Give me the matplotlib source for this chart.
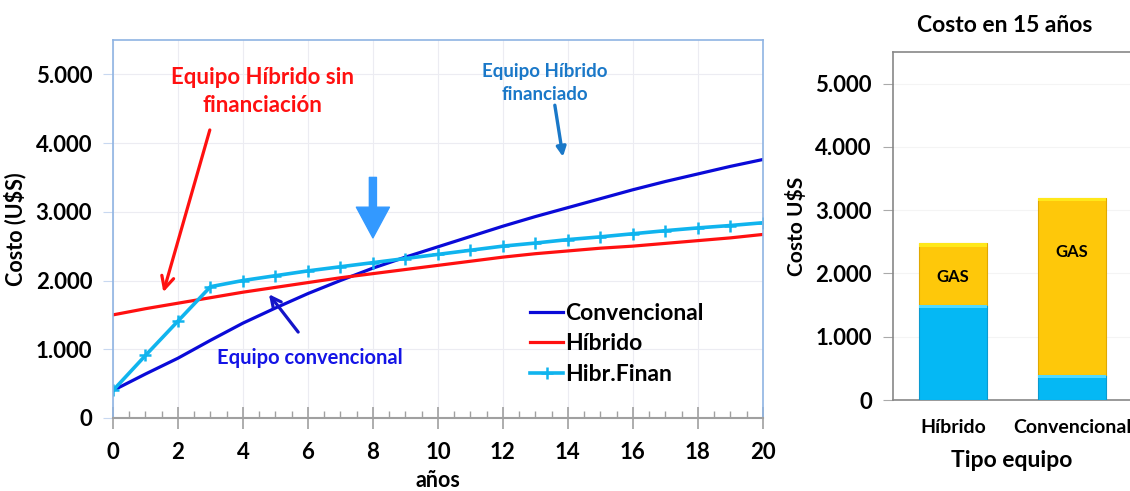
import numpy as np
import matplotlib.pyplot as plt
from matplotlib.ticker import FuncFormatter, MultipleLocator

plt.rcParams['font.family'] = ['Lato', 'DejaVu Sans']
plt.rcParams['font.weight'] = 'bold'

# Costo acumulado por año (U$S)
anos = list(range(0, 21))
convencional = [400, 640, 870, 1130, 1380, 1600, 1810, 2000, 2180, 2340, 2490,
                2640, 2790, 2930, 3060, 3190, 3320, 3440, 3550, 3660, 3760]
hibrido = [1500, 1590, 1670, 1750, 1830, 1900, 1970, 2040, 2100, 2160, 2220,
           2280, 2340, 2390, 2430, 2470, 2500, 2540, 2580, 2620, 2670]
hibr_finan = [400, 910, 1410, 1910, 2000, 2070, 2140, 2200, 2260, 2320, 2380,
              2440, 2500, 2545, 2595, 2635, 2680, 2725, 2765, 2800, 2840]

# Costo en 15 años por tipo de equipo
tipos = ["Híbrido", "Convencional"]
equipo = [1500, 400]
gas = [980, 2800]

def miles(v, pos):
    return f"{int(v):,}".replace(",", ".")

fig = plt.figure(figsize=(11.3, 4.91), dpi=100)

# ---------------- grafico de lineas ----------------
ax = fig.add_axes([0.1, 0.1487, 0.575, 0.77])
ax.plot(anos, convencional, color='#0a0ad8', lw=2.3, label="Convencional")
ax.plot(anos, hibrido, color='#ff1010', lw=2.3, label="Híbrido")
ax.plot(anos, hibr_finan, color='#10b4ee', lw=2.6, marker='+', ms=8, mew=1.8,
        label="Hibr.Finan")

ax.set_xlim(0, 20)
ax.set_ylim(0, 5500)
ax.xaxis.set_major_locator(MultipleLocator(2))
ax.xaxis.set_minor_locator(MultipleLocator(0.5))
ax.yaxis.set_major_locator(MultipleLocator(1000))
ax.yaxis.set_major_formatter(FuncFormatter(miles))
ax.grid(True, color='#ececf2', lw=0.8)
ax.set_axisbelow(True)

for s in ['left', 'right', 'top']:
    ax.spines[s].set_color('#8fb4e3')
    ax.spines[s].set_linewidth(1.2)
ax.spines['bottom'].set_color('#a0a0a0')
ax.spines['bottom'].set_linewidth(1.5)
ax.tick_params(axis='x', which='major', direction='inout', length=16, width=1.2,
               color='#a0a0a0', labelsize=16, pad=9)
ax.tick_params(axis='x', which='minor', direction='in', length=5, width=1,
               color='#a0a0a0')
ax.tick_params(axis='y', direction='out', length=7, color='#c8d8f0',
               labelsize=16, pad=8)

ax.set_xlabel("años", fontsize=15.5, fontweight='bold', labelpad=5)
ax.set_ylabel("Costo (U$S)", fontsize=15.5, fontweight='bold', labelpad=7)

ax.legend(loc='upper left', bbox_to_anchor=(0.642, 0.305), frameon=False,
          fontsize=16.5, handlelength=1.45, handletextpad=0.08, labelspacing=0.42,
          borderaxespad=0, borderpad=0)

# anotaciones
ax.text(4.6, 4750, "Equipo Híbrido sin\nfinanciación", color='#ff1010', fontsize=16,
        fontweight='bold', ha='center', va='center', linespacing=1.45)
ax.annotate("", xy=(1.55, 1830), xytext=(2.98, 4190),
            arrowprops=dict(arrowstyle='->', color='#ff1010', lw=2.3,
                            shrinkA=0, shrinkB=0, mutation_scale=22))
ax.text(13.3, 4870, "Equipo Híbrido\nfinanciado", color='#1a78c8', fontsize=13.5,
        fontweight='bold', ha='center', va='center', linespacing=1.45)
ax.annotate("", xy=(13.85, 3800), xytext=(13.6, 4550),
            arrowprops=dict(arrowstyle='-|>', color='#1a78c8', lw=2.4,
                            shrinkA=0, shrinkB=0, mutation_scale=14))
ax.annotate("", xy=(8.0, 2620), xytext=(8.0, 3500),
            arrowprops=dict(arrowstyle='simple,head_width=1.4,head_length=1.3,tail_width=0.3',
                            color='#3399ff', shrinkA=0, shrinkB=0, mutation_scale=17))
ax.text(6.05, 870, "Equipo convencional", color='#1414e6', fontsize=14.5,
        fontweight='bold', ha='center', va='center')
ax.annotate("", xy=(4.8, 1800), xytext=(5.7, 1250),
            arrowprops=dict(arrowstyle='->', color='#1414c8', lw=2.3,
                            shrinkA=0, shrinkB=0, mutation_scale=18))

# ---------------- grafico de barras ----------------
bx = fig.add_axes([0.790, 0.1853, 0.21, 0.7088])
x = np.arange(len(tipos))
w = 0.57
bx.bar(x, equipo, w, color='#05b8f4', edgecolor='#0a9ad0', lw=0.8, zorder=3)
bx.bar(x, gas, w, bottom=equipo, color='#fec80a', edgecolor='#e0a800', lw=0.8,
       zorder=3)
# brillo superior de cada segmento
bx.bar(x, [45] * 2, w, bottom=np.array(equipo) - 45, color='#50d8ff', lw=0, zorder=4)
bx.bar(x, [60] * 2, w, bottom=np.array(equipo) + np.array(gas) - 60,
       color='#ffe81a', lw=0, zorder=4)

gas_label_y = [1950, 2340]
for xi, yi in zip(x, gas_label_y):
    bx.text(xi, yi, "GAS", ha='center', va='center', fontsize=12,
            fontweight='bold', color='black', zorder=5)

bx.set_xlim(-0.504, 1.487)
bx.set_ylim(0, 5500)
bx.yaxis.set_major_locator(MultipleLocator(1000))
bx.yaxis.set_major_formatter(FuncFormatter(miles))
bx.set_xticks(x)
bx.set_xticklabels(tipos)
bx.grid(True, axis='y', color='#f4f4f4', lw=0.8)
bx.set_axisbelow(True)
bx.spines['right'].set_visible(False)
for s in ['left', 'top', 'bottom']:
    bx.spines[s].set_color('#888888')
    bx.spines[s].set_linewidth(1.2)
bx.tick_params(axis='x', length=0, labelsize=14, pad=14)
bx.tick_params(axis='y', direction='out', length=7, color='#aaaaaa',
               labelsize=16, pad=8)
bx.set_xlabel("Tipo equipo", fontsize=16.5, fontweight='bold', labelpad=10)
bx.set_ylabel("Costo U$S", fontsize=15, fontweight='bold', labelpad=6)
fig.text(0.889, 0.949, "Costo en 15 años", ha='center', va='center',
         fontsize=16.5, fontweight='bold')

fig.savefig("out.png", dpi=100)
